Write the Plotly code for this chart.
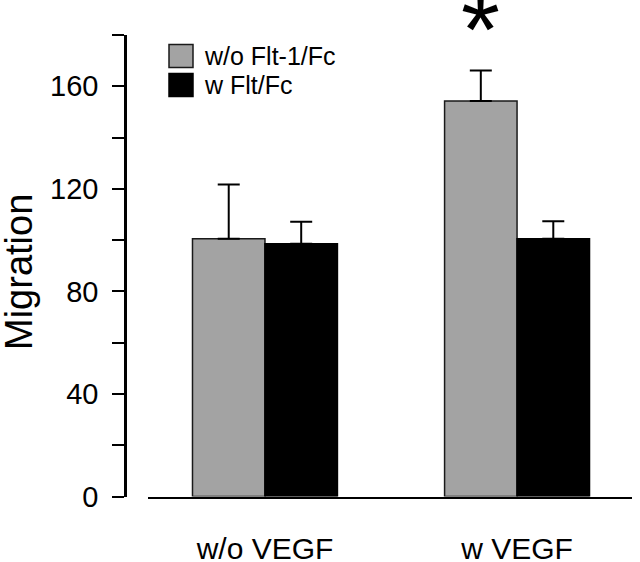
import plotly.graph_objects as go

# ---- data ----
categories = ["w/o VEGF", "w VEGF"]
series_names = ["w/o Flt-1/Fc", "w Flt/Fc"]
values_without_flt = [100.5, 154.3]
errors_without_flt = [21.2, 11.9]
values_with_flt = [98.6, 100.5]
errors_with_flt = [8.6, 6.9]
y_tick_values = [0, 20, 40, 60, 80, 100, 120, 140, 160, 180]
y_tick_labels = ["0", "", "40", "", "80", "", "120", "", "160", ""]
y_title = "Migration"
significance_mark = "*"

W, H = 640, 562
def px(x):
    return x / W
def py(y):
    return 1 - y / H

FONT = "Liberation Sans, Arial, Helvetica, sans-serif"
GRAY = "#a3a3a3"

fig = go.Figure()
fig.add_trace(go.Bar(
    name=series_names[0], x=categories, y=values_without_flt,
    marker=dict(color=GRAY, line=dict(color="#1a1a1a", width=1.5)),
    error_y=dict(type="data", symmetric=False, array=errors_without_flt,
                 arrayminus=[0, 0], color="black", thickness=2, width=11),
    showlegend=False,
))
fig.add_trace(go.Bar(
    name=series_names[1], x=categories, y=values_with_flt,
    marker=dict(color="black", line=dict(color="black", width=1.5)),
    error_y=dict(type="data", symmetric=False, array=errors_with_flt,
                 arrayminus=[0, 0], color="black", thickness=2, width=11),
    showlegend=False,
))

fig.update_layout(
    width=W, height=H,
    margin=dict(l=0, r=0, t=0, b=0),
    paper_bgcolor="white", plot_bgcolor="white",
    barmode="group", bargap=0.425, bargroupgap=0,
    font=dict(family=FONT, color="black"),
    xaxis=dict(
        domain=[px(148), px(632)], range=[-0.464, 1.456],
        showline=True, linecolor="black", linewidth=2,
        ticks="", showgrid=False, zeroline=False,
        tickfont=dict(size=30, family=FONT, color="black"),
        ticklabelstandoff=24, automargin=False,
    ),
    yaxis=dict(
        domain=[py(496.5), py(35)], range=[0, 180],
        anchor="free", position=px(125),
        showline=True, linecolor="black", linewidth=2.5,
        ticks="outside", ticklen=12, tickwidth=2, tickcolor="black",
        tickvals=y_tick_values, ticktext=y_tick_labels,
        tickfont=dict(size=29, family=FONT, color="black"),
        ticklabelstandoff=8,
        showgrid=False, zeroline=False, automargin=False,
    ),
)

# y axis title
fig.add_annotation(
    text=y_title, textangle=-90, xref="paper", yref="paper",
    x=px(19), y=py(272), xanchor="center", yanchor="middle",
    showarrow=False, font=dict(size=38, family=FONT, color="black"),
)

# legend drawn manually (large square swatches)
legend_rows = [(56, GRAY, "#1a1a1a"), (85, "black", "black")]
for (yc, fill, edge), name in zip(legend_rows, series_names):
    fig.add_shape(type="rect", xref="paper", yref="paper",
                  x0=px(169), x1=px(193), y0=py(yc - 11.5), y1=py(yc + 11.5),
                  fillcolor=fill, line=dict(color=edge, width=1.5))
    fig.add_annotation(text=name, xref="paper", yref="paper",
                       x=px(202), y=py(yc), xanchor="left", yanchor="middle",
                       showarrow=False,
                       font=dict(size=25, family=FONT, color="black"))

# significance asterisk over gray bar of "w VEGF"
fig.add_annotation(
    text=significance_mark, x=categories[1], xref="x", xshift=-37,
    y=py(29), yref="paper", yanchor="middle", xanchor="center",
    showarrow=False, font=dict(size=100, family=FONT, color="black"),
)

fig.write_html("out.html", config={"displayModeBar": False},
               post_script="document.body.style.margin='0px';")
